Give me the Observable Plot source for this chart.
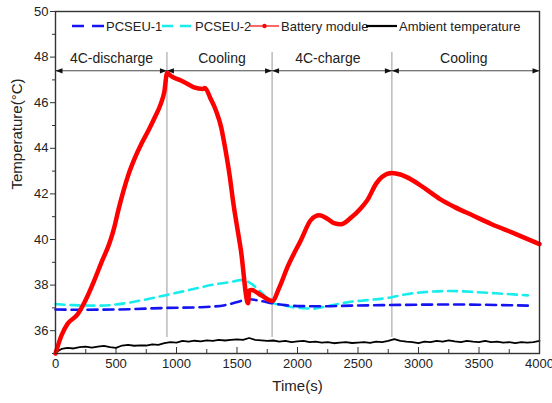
<!DOCTYPE html>
<html>
<head>
<meta charset="utf-8">
<script src="https://cdn.jsdelivr.net/npm/d3@7"></script>
<script src="https://cdn.jsdelivr.net/npm/@observablehq/plot@0.6"></script>
<style>
  html, body { margin: 0; padding: 0; background: #fff; }
  #wrap { position: relative; width: 552px; height: 403px; font-family: "Liberation Sans", Arial, sans-serif; }
  #legend { position: absolute; left: 0; top: 0; pointer-events: none; }
</style>
</head>
<body>
<div id="wrap"></div>
<script>
// ---------- data ----------
const batteryT = [0, 50, 100, 180, 240, 320, 380, 450, 484, 520, 560, 600, 650, 710, 770, 820, 870, 900, 922,
  960, 1037, 1100, 1145, 1219, 1235, 1280, 1326, 1370, 1392, 1442, 1467, 1533, 1592,
  1600, 1620, 1700, 1792, 1850, 1918, 2028, 2110, 2180, 2249, 2300, 2359, 2441, 2520, 2580, 2650, 2700, 2780,
  2850, 2950, 3050, 3185, 3300, 3450, 3600, 3800, 4000];
const batteryV = [35.0, 35.8, 36.3, 36.7, 37.25, 38.2, 39.0, 39.9, 40.5, 41.3, 42.1, 42.8, 43.5, 44.2, 44.8, 45.35, 45.95, 46.5, 47.3,
  47.15, 46.97, 46.8, 46.67, 46.6, 46.65, 46.2, 45.66, 44.9, 44.3, 42.7, 41.7, 39.5, 37.2,
  37.75, 37.78, 37.55, 37.3, 37.9, 38.8, 39.97, 40.85, 41.06, 40.9, 40.72, 40.67, 40.95, 41.35, 41.75, 42.45, 42.75, 42.92,
  42.85, 42.6, 42.25, 41.75, 41.42, 41.05, 40.68, 40.25, 39.8];

const pcseu1T = [0, 200, 500, 929, 1200, 1400, 1560, 1600, 1700, 1796, 1900, 2028, 2200, 2441, 2700, 3000, 3267, 3500, 3903];
const pcseu1V = [36.93, 36.92, 36.93, 37.0, 37.03, 37.12, 37.34, 37.38, 37.3, 37.2, 37.12, 37.08, 37.07, 37.1, 37.12, 37.14, 37.15, 37.14, 37.1];

const pcseu2T = [0, 150, 376, 500, 650, 929, 1202, 1285, 1450, 1532, 1600, 1698, 1796, 1900, 1970, 2135, 2250, 2383, 2441, 2580, 2772, 2900, 3045, 3267, 3490, 3700, 3903];
const pcseu2V = [37.17, 37.12, 37.1, 37.15, 37.27, 37.58, 37.9, 38.0, 38.14, 38.22, 38.12, 37.7, 37.22, 37.1, 37.02, 36.97, 37.08, 37.22, 37.27, 37.34, 37.46, 37.6, 37.69, 37.74, 37.69, 37.62, 37.55];

const ambientT = d3.range(0, 4001, 50);
const ambientV = [35.05, 35.2, 35.25, 35.22, 35.28, 35.3, 35.26, 35.3, 35.33, 35.28, 35.25, 35.35, 35.38, 35.34, 35.36, 35.35,
  35.4, 35.38, 35.45, 35.5, 35.48, 35.55, 35.52, 35.56, 35.53, 35.58, 35.55, 35.6, 35.57, 35.6, 35.62, 35.6, 35.68, 35.6,
  35.58, 35.55, 35.57, 35.52, 35.55, 35.5, 35.53, 35.55, 35.5, 35.52, 35.48, 35.5, 35.45, 35.48, 35.5, 35.46, 35.48, 35.5,
  35.47, 35.52, 35.5, 35.55, 35.63, 35.55, 35.52, 35.5, 35.45, 35.52, 35.5, 35.55, 35.52, 35.58, 35.53, 35.5, 35.55, 35.52,
  35.5, 35.55, 35.5, 35.52, 35.48, 35.5, 35.45, 35.5, 35.48, 35.5, 35.55];

const phaseBounds = [0, 921, 1790, 2780, 4000];
const phaseLabels = ["4C-discharge", "Cooling", "4C-charge", "Cooling"];
const phaseLabelX = [463, 1376, 2251, 3374];

const yTicks = [36, 38, 40, 42, 44, 46, 48, 50];
const yMinor = [35, 37, 39, 41, 43, 45, 47, 49];
const xTicks = [0, 500, 1000, 1500, 2000, 2500, 3000, 3500, 4000];
const xMinor = [250, 750, 1250, 1750, 2250, 2750, 3250, 3750];

const seriesNames = ["PCSEU-1", "PCSEU-2", "Battery module", "Ambient temperature"];
const seriesColors = ["#1414f0", "#19ecec", "#ff0000", "#000000"];

// ---------- tables ----------
const zip = (t, v) => t.map((x, i) => ({t: x, v: v[i]}));
const battery = zip(batteryT, batteryV);
const pcseu1 = zip(pcseu1T, pcseu1V);
const pcseu2 = zip(pcseu2T, pcseu2V);
const ambient = zip(ambientT, ambientV);
const segments = phaseLabels.map((l, i) => ({x1: phaseBounds[i], x2: phaseBounds[i + 1], label: l, lx: phaseLabelX[i]}));
const innerBounds = phaseBounds.slice(1, -1);

const arrowY = 47.4, labelY = 47.93, boundTop = 48.2, boundBottom = 35.7;
const triRight = {draw(ctx) { ctx.moveTo(0, 0); ctx.lineTo(-7, -2.6); ctx.lineTo(-7, 2.6); ctx.closePath(); }};
const triLeft = {draw(ctx) { ctx.moveTo(0, 0); ctx.lineTo(7, -2.6); ctx.lineTo(7, 2.6); ctx.closePath(); }};

const font = "Liberation Sans, Arial, sans-serif";
const fmt = d => String(d);

const chart = Plot.plot({
  width: 552,
  height: 403,
  marginLeft: 55,
  marginRight: 13,
  marginTop: 11,
  marginBottom: 50,
  style: {fontFamily: font, color: "#222", background: "#fff", overflow: "visible"},
  x: {domain: [0, 4000]},
  y: {domain: [35, 50]},
  marks: [
    // axes
    Plot.axisY(yTicks, {tickSize: 5, tickPadding: 2, fontSize: 13, label: null, stroke: "#333", tickFormat: fmt}),
    Plot.axisY(yMinor, {tickSize: 3, text: null, label: null, stroke: "#333"}),
    Plot.axisX(xTicks, {tickSize: 0, tickPadding: 5, fontSize: 13, label: null, tickFormat: fmt}),
    Plot.axisX(xTicks, {tickSize: -6, text: null, label: null, stroke: "#333"}),
    Plot.axisX(xMinor, {tickSize: -4, text: null, label: null, stroke: "#333"}),
    Plot.text(["Time(s)"], {frameAnchor: "bottom", dy: 37, fontSize: 15, fill: "#222"}),
    Plot.text(["Temperature(°C)"], {frameAnchor: "left", rotate: -90, dx: -38, dy: 7, fontSize: 15, fill: "#222"}),
    // phase boundaries
    Plot.ruleX(innerBounds, {y1: boundBottom, y2: boundTop, stroke: "#aaa", strokeWidth: 1.2}),
    // phase arrows
    Plot.link(segments, {x1: "x1", x2: "x2", y1: arrowY, y2: arrowY, stroke: "#333", strokeWidth: 0.9}),
    Plot.dot(segments, {x: "x2", y: arrowY, symbol: triRight, fill: "#111", stroke: null}),
    Plot.dot(segments, {x: "x1", y: arrowY, symbol: triLeft, fill: "#111", stroke: null}),
    Plot.text(segments, {x: "lx", y: labelY, text: "label", fontSize: 14, fill: "#222"}),
    // series
    Plot.line(ambient, {x: "t", y: "v", stroke: seriesColors[3], strokeWidth: 1.8}),
    Plot.line(pcseu2, {x: "t", y: "v", stroke: seriesColors[1], strokeWidth: 2.6, strokeDasharray: "9,6", curve: "monotone-x"}),
    Plot.line(pcseu1, {x: "t", y: "v", stroke: seriesColors[0], strokeWidth: 2.6, strokeDasharray: "10,6", curve: "monotone-x"}),
    Plot.line(battery, {x: "t", y: "v", stroke: seriesColors[2], strokeWidth: 4.5, curve: "monotone-x"}),
    Plot.frame({stroke: "#333", strokeWidth: 1.4})
  ]
});

const wrap = document.getElementById("wrap");
wrap.appendChild(chart);

// ---------- legend (inside the frame, top) ----------
const legendItems = [
  {x0: 72, x1: 104, tx: 106, dash: "12,8", w: 2.6, dot: false},
  {x0: 162, x1: 193, tx: 195, dash: "11,7", w: 2.6, dot: false},
  {x0: 250, x1: 279, tx: 281, dash: null, w: 1.2, dot: true},
  {x0: 366, x1: 397, tx: 399, dash: null, w: 2.2, dot: false}
];
const legendY = 26;
const svg = d3.select(wrap).append("svg").attr("id", "legend").attr("width", 552).attr("height", 403);
legendItems.forEach((it, i) => {
  const g = svg.append("g");
  const ln = g.append("line").attr("x1", it.x0).attr("x2", it.x1).attr("y1", legendY).attr("y2", legendY)
    .attr("stroke", seriesColors[i]).attr("stroke-width", it.w);
  if (it.dash) ln.attr("stroke-dasharray", it.dash);
  if (it.dot) g.append("circle").attr("cx", (it.x0 + it.x1) / 2).attr("cy", legendY).attr("r", 2.2).attr("fill", seriesColors[i]);
  g.append("text").attr("x", it.tx).attr("y", legendY).attr("dy", "0.35em")
    .attr("font-family", font).attr("font-size", 13).attr("fill", "#222").text(seriesNames[i]);
});
</script>
</body>
</html>
